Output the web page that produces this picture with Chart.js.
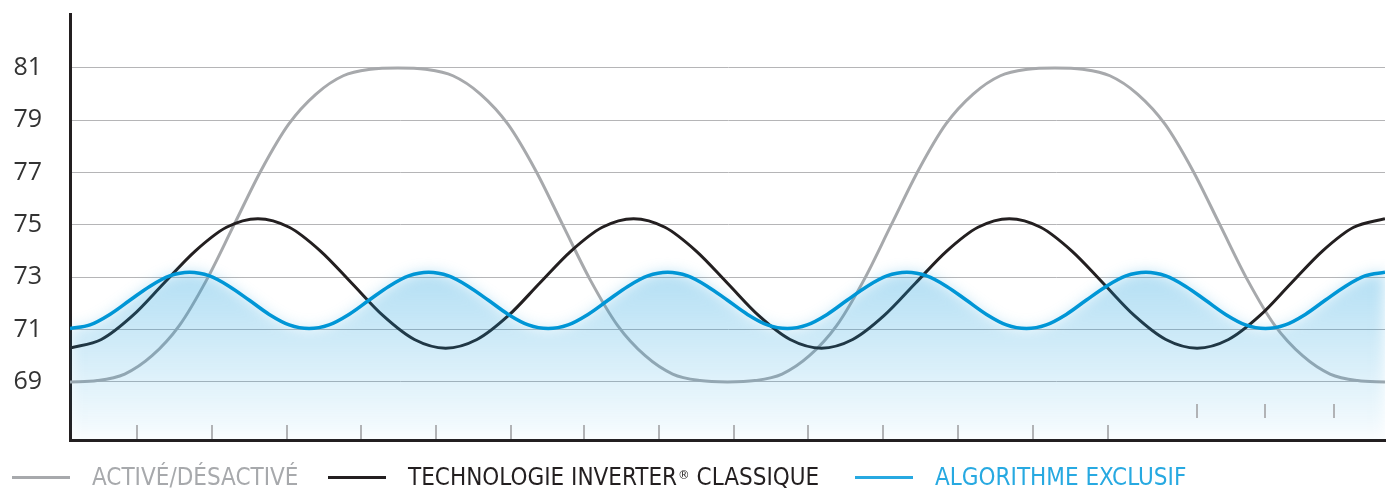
<!DOCTYPE html>
<html>
<head>
<meta charset="utf-8">
<script src="https://cdn.jsdelivr.net/npm/chart.js@4.4.0/dist/chart.umd.min.js"></script>
<style>
html, body { margin: 0; padding: 0; background: #fff; }
#wrap { position: relative; width: 1390px; height: 490px; }
#legend { position: absolute; left: 0; top: 460px; width: 1390px; height: 34px;
  font-family: "DejaVu Sans Condensed", "DejaVu Sans", sans-serif; font-stretch: condensed; font-size: 24px; }
.item { position: absolute; top: 0; height: 34px; display: flex; align-items: center; white-space: pre; }
.item i { display: inline-block; width: 58px; height: 3px; margin-right: 22px; }
.item sup { font-size: 13px; position: relative; top: -3px; margin-left: 1px; }
</style>
</head>
<body>
<div id="wrap">
  <canvas id="myChart" width="1390" height="490"></canvas>
  <div id="legend">
    <div class="item" style="left:12px;color:#a7a9ac"><i style="background:#a7a9ac"></i>ACTIVÉ/DÉSACTIVÉ</div>
    <div class="item" style="left:328px;color:#231f20"><i style="background:#231f20"></i>TECHNOLOGIE INVERTER<sup>®</sup> CLASSIQUE</div>
    <div class="item" style="left:855px;color:#27a9e1"><i style="background:#27a9e1"></i>ALGORITHME EXCLUSIF</div>
  </div>
</div>
<script>
// y axis labels
const yTicks = [69, 71, 73, 75, 77, 79, 81];

// ACTIVÉ/DÉSACTIVÉ (gray), time in % of the width
const grayT = [0, 2.08, 4.16, 6.24, 8.31, 10.39, 12.47, 14.55, 16.63, 18.71, 20.78, 22.86, 24.94,
  27.03, 29.12, 31.21, 33.30, 35.39, 37.47, 39.56, 41.65, 43.74, 45.83, 47.92, 50.0,
  52.08, 54.15, 56.23, 58.30, 60.38, 62.45, 64.53, 66.60, 68.68, 70.75, 72.83, 74.90,
  76.99, 79.08, 81.18, 83.27, 85.36, 87.45, 89.54, 91.63, 93.73, 95.82, 97.91, 100];
const grayV = [69, 69.05, 69.3, 70.0, 71.15, 72.9, 75, 77.1, 78.85, 80.0, 80.7, 80.95, 81,
  80.95, 80.7, 80.0, 78.85, 77.1, 75, 72.9, 71.15, 70.0, 69.3, 69.05, 69,
  69.05, 69.3, 70.0, 71.15, 72.9, 75, 77.1, 78.85, 80.0, 80.7, 80.95, 81,
  80.95, 80.7, 80.0, 78.85, 77.1, 75, 72.9, 71.15, 70.0, 69.3, 69.05, 69];

// TECHNOLOGIE INVERTER CLASSIQUE (black)
const blackT = [0, 2.38, 4.76, 7.14, 9.52, 11.90, 14.29, 16.67, 19.05, 21.43, 23.81, 26.19, 28.57,
  30.95, 33.33, 35.71, 38.10, 40.48, 42.86, 45.24, 47.62, 50.0, 52.38, 54.76, 57.14,
  59.52, 61.90, 64.29, 66.67, 69.05, 71.43, 73.81, 76.19, 78.57, 80.95, 83.33, 85.71,
  88.10, 90.48, 92.86, 95.24, 97.62, 100];
const blackV = [70.29, 70.62, 71.53, 72.77, 74.0, 74.91, 75.24, 74.91, 74.0, 72.77, 71.53, 70.62, 70.29,
  70.62, 71.53, 72.77, 74.0, 74.91, 75.24, 74.91, 74.0, 72.77, 71.53, 70.62, 70.29,
  70.62, 71.53, 72.77, 74.0, 74.91, 75.24, 74.91, 74.0, 72.77, 71.53, 70.62, 70.29,
  70.62, 71.53, 72.77, 74.0, 74.91, 75.24];

// ALGORITHME EXCLUSIF (blue)
const blueT = [0, 1.52, 3.03, 4.55, 6.06, 7.58, 9.09, 10.61, 12.12, 13.64, 15.15, 16.67,
  18.18, 19.70, 21.21, 22.73, 24.24, 25.76, 27.27, 28.79, 30.30, 31.82, 33.33, 34.85,
  36.36, 37.88, 39.39, 40.91, 42.42, 43.94, 45.45, 46.97, 48.48, 50.0, 51.52, 53.03,
  54.55, 56.06, 57.58, 59.09, 60.61, 62.12, 63.64, 65.15, 66.67, 68.18, 69.70, 71.21,
  72.73, 74.24, 75.76, 77.27, 78.79, 80.30, 81.82, 83.33, 84.85, 86.36, 87.88, 89.39,
  90.91, 92.42, 93.94, 95.45, 96.97, 98.48, 100];
const blueV = [71.04, 71.18, 71.58, 72.12, 72.65, 73.05, 73.19, 73.05, 72.65, 72.12, 71.58, 71.18,
  71.04, 71.18, 71.58, 72.12, 72.65, 73.05, 73.19, 73.05, 72.65, 72.12, 71.58, 71.18,
  71.04, 71.18, 71.58, 72.12, 72.65, 73.05, 73.19, 73.05, 72.65, 72.12, 71.58, 71.18,
  71.04, 71.18, 71.58, 72.12, 72.65, 73.05, 73.19, 73.05, 72.65, 72.12, 71.58, 71.18,
  71.04, 71.18, 71.58, 72.12, 72.65, 73.05, 73.19, 73.05, 72.65, 72.12, 71.58, 71.18,
  71.04, 71.18, 71.58, 72.12, 72.65, 73.05, 73.19];

// small marks along the bottom
const lowMarks = [5.1, 10.8, 16.5, 22.1, 27.8, 33.5, 39.1, 44.8, 50.5, 56.1, 61.8, 67.5, 73.2, 78.9];
const highMarks = [85.7, 90.9, 96.1];

function pts(ts, vs) {
  return ts.map(function (t, i) { return { x: t, y: vs[i] }; });
}

// blurred fill under the blue line, bottom marks
const glowPlugin = {
  id: 'glow',
  afterDatasetDraw: function (chart, args) {
    if (args.index === 1) chart.ctx.filter = 'blur(7px)';
  },
  beforeDatasetDraw: function (chart, args) {
    if (args.index === 0) chart.ctx.filter = 'none';
  },
  afterDatasetsDraw: function (chart) {
    chart.ctx.filter = 'none';
  },
  afterDraw: function (chart) {
    const ctx = chart.ctx;
    const x = chart.scales.x;
    const b = chart.chartArea.bottom;
    ctx.save();
    ctx.strokeStyle = '#b1b3b6';
    ctx.lineWidth = 2;
    ctx.beginPath();
    lowMarks.forEach(function (t) {
      const px = Math.round(x.getPixelForValue(t));
      ctx.moveTo(px, b - 15);
      ctx.lineTo(px, b - 1);
    });
    highMarks.forEach(function (t) {
      const px = Math.round(x.getPixelForValue(t));
      ctx.moveTo(px, b - 36);
      ctx.lineTo(px, b - 22);
    });
    ctx.stroke();
    ctx.restore();
  }
};

const ctx = document.getElementById('myChart').getContext('2d');
const myChart = new Chart(ctx, {
  type: 'line',
  data: {
    datasets: [{
      label: 'ALGORITHME EXCLUSIF',
      data: pts(blueT, blueV),
      borderColor: '#0096d6',
      borderWidth: 3.5,
      pointRadius: 0,
      cubicInterpolationMode: 'monotone',
      fill: 'start',
      backgroundColor: function (context) {
        const chart = context.chart;
        const area = chart.chartArea;
        if (!area) return 'rgba(20,155,220,0.2)';
        const g = chart.ctx.createLinearGradient(0, 270, 0, area.bottom);
        g.addColorStop(0, 'rgba(20,155,220,0.33)');
        g.addColorStop(1, 'rgba(20,155,220,0.03)');
        return g;
      }
    }, {
      label: 'TECHNOLOGIE INVERTER® CLASSIQUE',
      data: pts(blackT, blackV),
      borderColor: '#231f20',
      borderWidth: 3,
      pointRadius: 0,
      cubicInterpolationMode: 'monotone',
      fill: false
    }, {
      label: 'ACTIVÉ/DÉSACTIVÉ',
      data: pts(grayT, grayV),
      borderColor: '#a7a9ac',
      borderWidth: 3,
      pointRadius: 0,
      cubicInterpolationMode: 'monotone',
      fill: false
    }]
  },
  options: {
    responsive: false,
    animation: false,
    layout: { padding: { top: 14, right: 5, left: 0, bottom: 0 } },
    plugins: {
      legend: { display: false },
      tooltip: { enabled: false }
    },
    scales: {
      x: {
        type: 'linear',
        min: 0,
        max: 100,
        ticks: { display: false },
        grid: { display: false, drawTicks: false },
        border: { display: true, color: '#231f20', width: 3 },
        afterFit: function (scale) {
          scale.height = 50;
          scale.paddingLeft = 0;
          scale.paddingRight = 0;
        }
      },
      y: {
        min: 66.78,
        max: 83.06,
        afterBuildTicks: function (scale) {
          scale.ticks = yTicks.map(function (v) { return { value: v }; });
        },
        ticks: {
          color: '#333333',
          padding: 28,
          font: { family: 'Open Sans', size: 25 }
        },
        grid: { color: '#b5b5b7', lineWidth: 1, drawTicks: false },
        border: { display: true, color: '#231f20', width: 3 },
        afterFit: function (scale) {
          scale.width = 70;
          scale.paddingTop = 0;
          scale.paddingBottom = 0;
        }
      }
    }
  },
  plugins: [glowPlugin]
});
</script>
</body>
</html>
